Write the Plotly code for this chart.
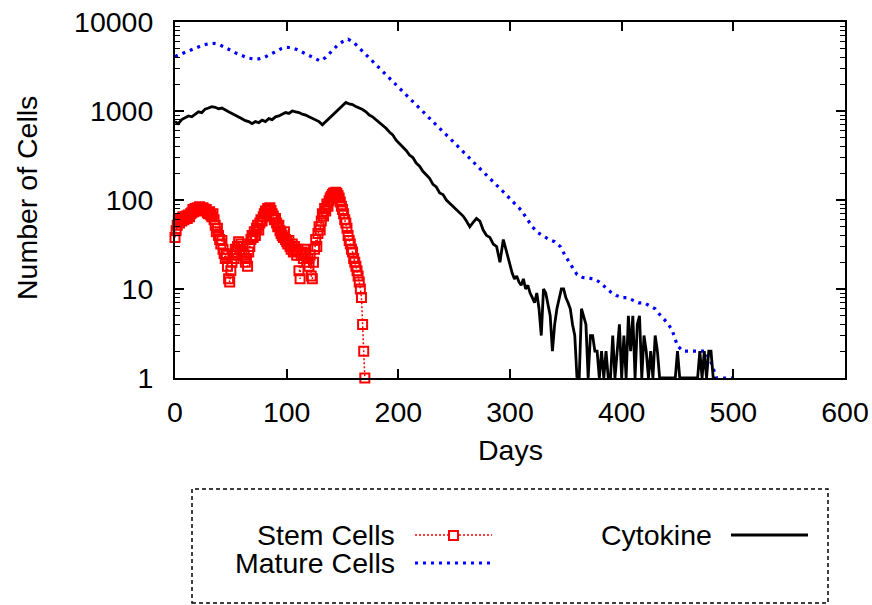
import plotly.graph_objects as go

# ---------------- data ----------------
stem_vals = [
    38, 45, 52, 60, 55, 62, 58, 65, 60, 63, 66,
    62, 68, 65, 70, 72, 78, 74, 80, 76, 82,
    78, 84, 80, 76, 82, 79, 75, 78, 72, 70,
    74, 68, 65, 70, 60, 52, 44, 48, 40, 36,
    32, 35, 28, 25, 22, 24, 18, 13, 12, 16,
    20, 24, 22, 28, 26, 30, 34, 28, 32, 26,
    30, 24, 20, 22, 18, 26, 30, 36, 40, 38,
    44, 40, 48, 52, 46, 55, 60, 58, 65, 70,
    75, 72, 80, 78, 82, 76, 70, 66, 60, 62,
    55, 50, 52, 45, 42, 40, 38, 44, 36, 34,
    32, 35, 30, 28, 32, 26, 30, 27, 24, 28,
    16, 13, 24, 26, 22, 28, 25, 20, 22, 18,
    24, 14, 13, 20, 28, 36, 30, 42, 50, 46,
    58, 70, 66, 80, 75, 90, 85, 98, 105, 110,
    115, 120, 118, 122, 118, 112, 105, 95, 85, 78,
    70, 60, 55, 48, 40, 35, 32, 28, 26, 22,
    20, 18, 16, 14, 12, 10, 8, 4, 2, 1,
]
stem_days = list(range(len(stem_vals)))

mature_vals = [
    4100, 4350, 4600, 4900, 5200, 5500, 5700, 5750, 5550, 5200,
    4800, 4450, 4150, 3950, 3850, 3850, 4000, 4300, 4700, 5000,
    5200, 5150, 4850, 4500, 4200, 3900, 3650, 4000, 4700, 5400,
    6000, 6400, 5900, 5100, 4430, 3830, 3320, 2870, 2480, 2150,
    1860, 1610, 1390, 1200, 1040, 900, 782, 680, 585, 510,
    438, 380, 328, 285, 246, 214, 184, 160, 138, 120,
    103, 89, 77, 62, 50, 43, 39, 36, 34, 30,
    23, 18, 14.5, 13.5, 13.3, 13, 12, 10.5, 9.3, 8.5,
    8, 8, 7.5, 7, 7, 6.5, 6, 5, 4.3, 3.5,
    2.3, 2, 2, 2, 2, 2, 1.5, 1, 1, 1,
    1, 1,
]
mature_days = [5 * i for i in range(len(mature_vals))]

cyto_early = [
    760, 720, 800, 840, 880, 860, 930, 980, 960, 1050,
    1080, 1120, 1100, 1060, 1080, 1020, 980, 940, 900, 870,
    820, 780, 760, 720, 760, 740, 790, 760, 820, 800,
    860, 880, 920, 960, 940, 1000, 980, 960, 920, 900,
    860, 820, 790, 760, 700, 760, 820, 900, 980, 1060,
    1140, 1250, 1200, 1180, 1120, 1080, 1040, 980, 900, 860,
    800, 740, 680, 640, 580, 540, 470, 430, 400, 360,
    320, 300, 260, 240, 210, 190, 175, 150, 140, 120,
    115, 100, 92, 84, 78, 72, 66, 58, 50, 56,
    62, 58, 46, 40, 38, 32, 30, 20, 36, 26,
    18,
]
cyto_late = [
    15, 13, 14, 12, 11, 13, 10, 11, 9, 8,
    7, 9, 6, 3, 10, 9, 7, 5, 2, 4,
    6, 8, 10, 10, 8, 7, 6, 4, 3, 1,
    1, 6, 5, 4, 1, 3, 3, 2, 2, 1,
    2, 1, 2, 1, 1, 3, 1, 2, 4, 1,
    3, 1, 5, 2, 5, 1, 4, 5, 1, 3,
    2, 1, 2, 1, 3, 2, 1, 1, 1, 1,
    1, 1, 1, 1, 2, 1, 1, 1, 1, 1,
    1, 1, 1, 1, 2, 1, 2, 1, 2, 2,
    1, 1,
]
cyto_days = [3 * i for i in range(len(cyto_early))] + \
            [302 + 2 * i for i in range(len(cyto_late))]
cyto_vals = cyto_early + cyto_late

x_ticks = [0, 100, 200, 300, 400, 500, 600]
y_ticks = [1, 10, 100, 1000, 10000]
y_ticktext = ["1", "10", "100", "1000", "10000"]

# ---------------- layout helpers ----------------
W, H = 872, 605
L, R, T, B = 175, 845, 22, 378
FONT = "Liberation Sans, Arial, Helvetica, sans-serif"
FS = 28.5


def px(x):
    return (x - L) / (R - L)


def py(y):
    return (B - y) / (B - T)


fig = go.Figure()
fig.add_trace(go.Scatter(
    x=stem_days, y=stem_vals, mode="lines+markers", name="Stem Cells",
    line=dict(color="#ff0000", width=1.5, dash="2px,2px"),
    marker=dict(symbol="square-open", size=9, color="#ff0000",
                line=dict(width=2, color="#ff0000")),
    cliponaxis=False))
fig.add_trace(go.Scatter(
    x=mature_days, y=mature_vals, mode="lines", name="Mature Cells",
    line=dict(color="#0000ff", width=3.2, dash="3px,5px")))
fig.add_trace(go.Scatter(
    x=cyto_days, y=cyto_vals, mode="lines", name="Cytokine",
    line=dict(color="black", width=2.8)))

y_minor = [m * 10 ** e for e in range(4) for m in range(2, 10)]

fig.update_layout(
    width=W, height=H,
    margin=dict(l=L, r=W - R, t=T, b=H - B, pad=0, autoexpand=False),
    plot_bgcolor="white", paper_bgcolor="white",
    showlegend=False,
    font=dict(family=FONT, size=FS, color="black"),
)
fig.update_xaxes(
    range=[0, 600], tickvals=x_ticks, ticks="inside", ticklen=9,
    tickwidth=1.5, tickcolor="black", mirror="allticks", showline=True,
    linecolor="black", linewidth=2, showgrid=False, zeroline=False,
    automargin=False,
    ticklabelstandoff=8, tickfont=dict(family=FONT, size=FS, color="black"))
fig.update_yaxes(
    type="log", range=[0, 4], tickvals=y_ticks, ticktext=y_ticktext,
    ticks="inside", ticklen=9, tickwidth=1.5, tickcolor="black",
    mirror="allticks", showline=True, linecolor="black", linewidth=2,
    showgrid=False, zeroline=False, ticklabelstandoff=14, automargin=False,
    tickfont=dict(family=FONT, size=FS, color="black"),
    minor=dict(tickvals=y_minor, ticks="inside", ticklen=5, tickwidth=1.2,
               tickcolor="black", showgrid=False))

# axis titles
fig.add_annotation(text="Days", xref="paper", yref="paper", x=px(510), y=py(450),
                   showarrow=False, font=dict(family=FONT, size=FS, color="black"),
                   xanchor="center", yanchor="middle")
fig.add_annotation(text="Number of Cells", xref="paper", yref="paper", x=px(27), y=py(198),
                   showarrow=False, textangle=-90,
                   font=dict(family=FONT, size=FS, color="black"),
                   xanchor="center", yanchor="middle")

# gnuplot-style legend box
fig.add_shape(type="rect", xref="paper", yref="paper",
              x0=px(192), x1=px(828), y0=py(603), y1=py(489),
              line=dict(color="black", width=1.5, dash="4px,3px"))
legend_items = [
    ("Stem Cells", 397, 535, 415, 492, dict(color="#ff0000", width=1.5, dash="2px,2px")),
    ("Mature Cells", 397, 563, 415, 492, dict(color="#0000ff", width=3.2, dash="3px,5px")),
    ("Cytokine", 714, 535, 731, 808, dict(color="black", width=2.8)),
]
for text, tx, ty, lx0, lx1, ln in legend_items:
    fig.add_annotation(text=text, xref="paper", yref="paper", x=px(tx), y=py(ty),
                       showarrow=False, xanchor="right", yanchor="middle",
                       font=dict(family=FONT, size=FS, color="black"))
    fig.add_shape(type="line", xref="paper", yref="paper",
                  x0=px(lx0), x1=px(lx1), y0=py(ty), y1=py(ty), line=ln)
# square marker sample for stem cells
fig.add_shape(type="rect", xref="paper", yref="paper",
              x0=px(449), x1=px(458), y0=py(540), y1=py(531),
              line=dict(color="#ff0000", width=2), fillcolor="white")

fig.write_html("out.html")
